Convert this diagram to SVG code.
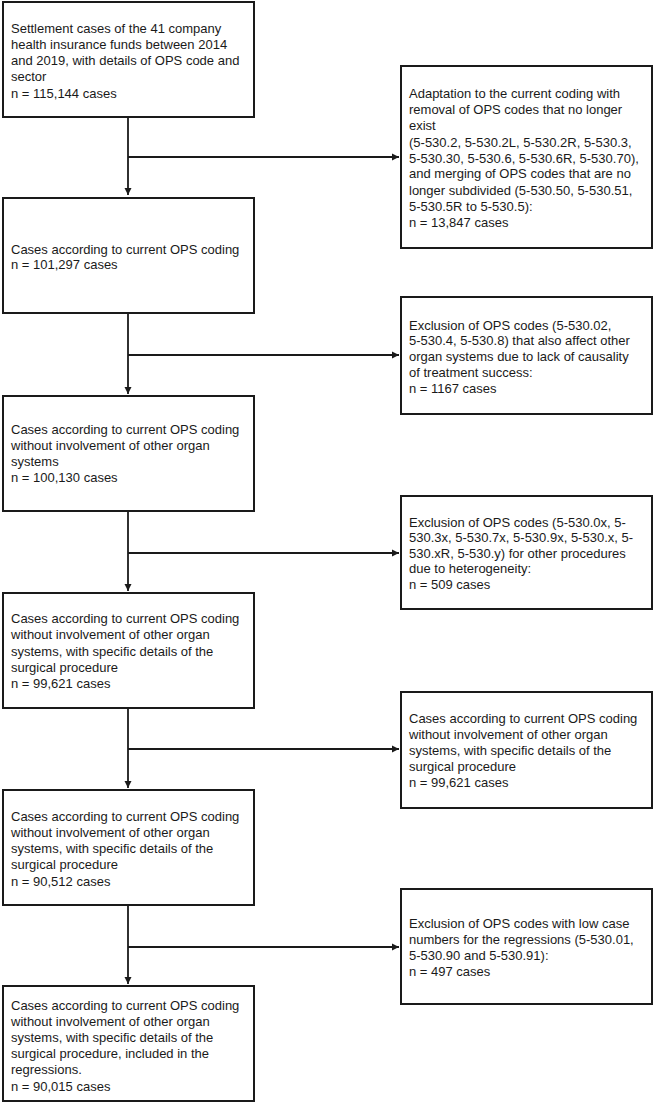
<svg xmlns="http://www.w3.org/2000/svg" width="654" height="1104" viewBox="0 0 654 1104">
<style>
.box{fill:#fff;stroke:#1a1a1a;stroke-width:2}
.t{font-family:"Liberation Sans",Arial,sans-serif;font-size:13px;fill:#1a1a1a}
.c{fill:none;stroke:#1a1a1a;stroke-width:1.8}
</style>
<defs>
<marker id="ah" viewBox="0 0 8 8" refX="8" refY="4" markerWidth="4" markerHeight="4" orient="auto" markerUnits="strokeWidth">
<path d="M0,0 L8,4 L0,8 z" fill="#1a1a1a"/>
</marker>
</defs>
<rect width="654" height="1104" fill="#fff"/>
<g id="connectors">
<path class="c" d="M128,117 V195" marker-end="url(#ah)"/>
<path class="c" d="M128,157 H399" marker-end="url(#ah)"/>
<path class="c" d="M128,313 V394" marker-end="url(#ah)"/>
<path class="c" d="M128,355 H399" marker-end="url(#ah)"/>
<path class="c" d="M128,511 V591" marker-end="url(#ah)"/>
<path class="c" d="M128,553 H399" marker-end="url(#ah)"/>
<path class="c" d="M128,708 V788" marker-end="url(#ah)"/>
<path class="c" d="M128,749 H399" marker-end="url(#ah)"/>
<path class="c" d="M128,905 V984" marker-end="url(#ah)"/>
<path class="c" d="M128,947 H399" marker-end="url(#ah)"/>
</g>
<g id="n1">
<rect class="box" x="3" y="2" width="251" height="115"/>
<text class="t" x="11" y="32.5">Settlement cases of the 41 company</text>
<text class="t" x="11" y="48.5">health insurance funds between 2014</text>
<text class="t" x="11" y="65">and 2019, with details of OPS code and</text>
<text class="t" x="11" y="81">sector</text>
<text class="t" x="11" y="97.5">n = 115,144 cases</text>
</g>
<g id="r1">
<rect class="box" x="401" y="66" width="251" height="182"/>
<text class="t" x="409" y="97.5">Adaptation to the current coding with</text>
<text class="t" x="409" y="113.5">removal of OPS codes that no longer</text>
<text class="t" x="409" y="130">exist</text>
<text class="t" x="409" y="146.5">(5-530.2, 5-530.2L, 5-530.2R, 5-530.3,</text>
<text class="t" x="409" y="162.5">5-530.30, 5-530.6, 5-530.6R, 5-530.70),</text>
<text class="t" x="409" y="178">and merging of OPS codes that are no</text>
<text class="t" x="409" y="194.5">longer subdivided (5-530.50, 5-530.51,</text>
<text class="t" x="409" y="210.5">5-530.5R to 5-530.5):</text>
<text class="t" x="409" y="226.5">n = 13,847 cases</text>
</g>
<g id="n2">
<rect class="box" x="3" y="198" width="251" height="115"/>
<text class="t" x="11" y="253.5">Cases according to current OPS coding</text>
<text class="t" x="11" y="269">n = 101,297 cases</text>
</g>
<g id="r2">
<rect class="box" x="401" y="297" width="251" height="117"/>
<text class="t" x="409" y="329.5">Exclusion of OPS codes (5-530.02,</text>
<text class="t" x="409" y="344.5">5-530.4, 5-530.8) that also affect other</text>
<text class="t" x="409" y="360.5">organ systems due to lack of causality</text>
<text class="t" x="409" y="376.5">of treatment success:</text>
<text class="t" x="409" y="392.5">n = 1167 cases</text>
</g>
<g id="n3">
<rect class="box" x="3" y="396" width="251" height="115"/>
<text class="t" x="11" y="433.5">Cases according to current OPS coding</text>
<text class="t" x="11" y="449.5">without involvement of other organ</text>
<text class="t" x="11" y="465.5">systems</text>
<text class="t" x="11" y="482">n = 100,130 cases</text>
</g>
<g id="r3">
<rect class="box" x="401" y="496" width="251" height="113"/>
<text class="t" x="409" y="526.5">Exclusion of OPS codes (5-530.0x, 5-</text>
<text class="t" x="409" y="541.5">530.3x, 5-530.7x, 5-530.9x, 5-530.x, 5-</text>
<text class="t" x="409" y="557.5">530.xR, 5-530.y) for other procedures</text>
<text class="t" x="409" y="572.5">due to heterogeneity:</text>
<text class="t" x="409" y="588.5">n = 509 cases</text>
</g>
<g id="n4">
<rect class="box" x="3" y="593" width="251" height="115"/>
<text class="t" x="11" y="622.5">Cases according to current OPS coding</text>
<text class="t" x="11" y="638.5">without involvement of other organ</text>
<text class="t" x="11" y="655.5">systems, with specific details of the</text>
<text class="t" x="11" y="671.5">surgical procedure</text>
<text class="t" x="11" y="687.5">n = 99,621 cases</text>
</g>
<g id="r4">
<rect class="box" x="401" y="692" width="251" height="116"/>
<text class="t" x="409" y="722.5">Cases according to current OPS coding</text>
<text class="t" x="409" y="738.5">without involvement of other organ</text>
<text class="t" x="409" y="754.5">systems, with specific details of the</text>
<text class="t" x="409" y="770.5">surgical procedure</text>
<text class="t" x="409" y="786.5">n = 99,621 cases</text>
</g>
<g id="n5">
<rect class="box" x="3" y="790" width="251" height="115"/>
<text class="t" x="11" y="820.5">Cases according to current OPS coding</text>
<text class="t" x="11" y="836.5">without involvement of other organ</text>
<text class="t" x="11" y="852.5">systems, with specific details of the</text>
<text class="t" x="11" y="868.5">surgical procedure</text>
<text class="t" x="11" y="885.5">n = 90,512 cases</text>
</g>
<g id="r5">
<rect class="box" x="401" y="889" width="251" height="115"/>
<text class="t" x="409" y="927.5">Exclusion of OPS codes with low case</text>
<text class="t" x="409" y="943.5">numbers for the regressions (5-530.01,</text>
<text class="t" x="409" y="959.5">5-530.90 and 5-530.91):</text>
<text class="t" x="409" y="975.5">n = 497 cases</text>
</g>
<g id="n6">
<rect class="box" x="3" y="986" width="251" height="115"/>
<text class="t" x="11" y="1009.5">Cases according to current OPS coding</text>
<text class="t" x="11" y="1025.5">without involvement of other organ</text>
<text class="t" x="11" y="1041.5">systems, with specific details of the</text>
<text class="t" x="11" y="1057.5">surgical procedure, included in the</text>
<text class="t" x="11" y="1073.5">regressions.</text>
<text class="t" x="11" y="1090.5">n = 90,015 cases</text>
</g>
</svg>
